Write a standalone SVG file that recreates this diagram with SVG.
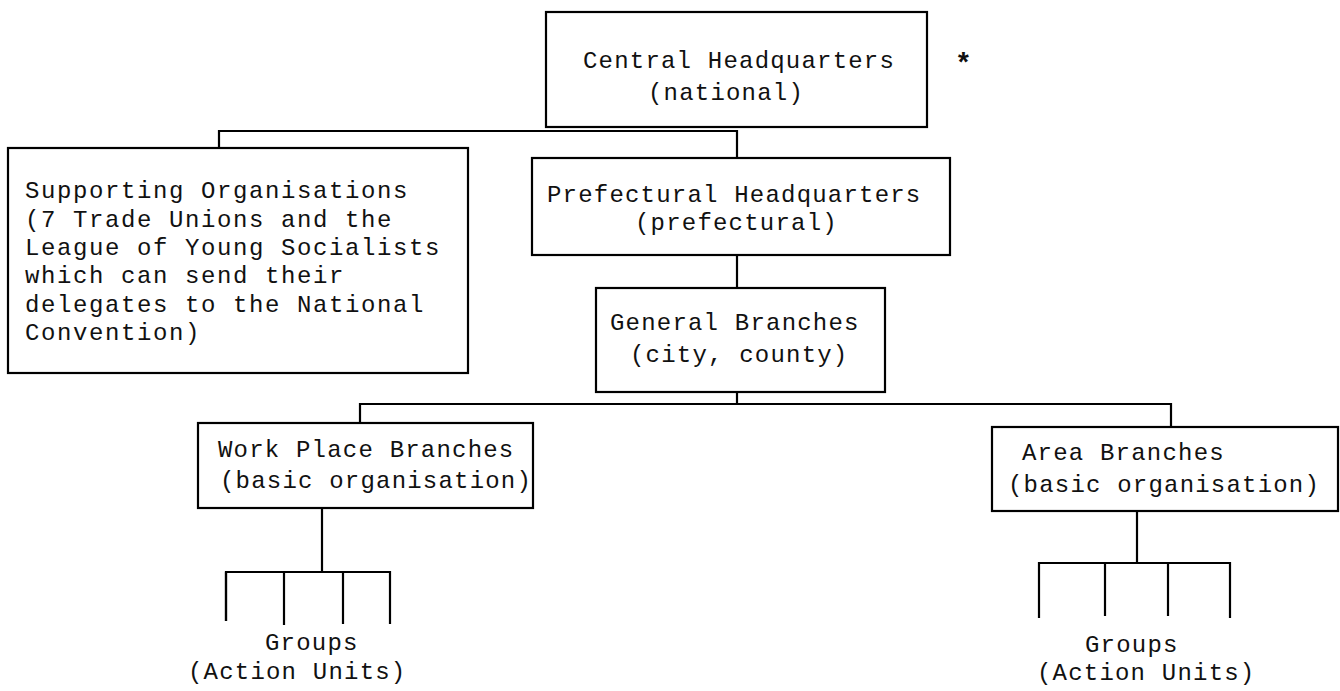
<svg xmlns="http://www.w3.org/2000/svg" width="1340" height="691" viewBox="0 0 1340 691">
<style>
.box{fill:#fff;stroke:#000;stroke-width:2.2}
.ln{fill:none;stroke:#000;stroke-width:2.2}
.t{font-family:"Liberation Mono","DejaVu Sans Mono",monospace;font-size:24px;letter-spacing:1.2px;fill:#111}
.w{letter-spacing:1.6px}
</style>
<rect width="1340" height="691" fill="#fff"/>
<g id="connectors">
<polyline class="ln" points="219,148 219,131 737,131 737,158"/>
<line class="ln" x1="737" y1="255" x2="737" y2="288"/>
<polyline class="ln" points="360,423 360,404 1171,404 1171,427"/>
<line class="ln" x1="737" y1="392" x2="737" y2="404"/>
<line class="ln" x1="322" y1="508" x2="322" y2="572"/>
<polyline class="ln" points="226,621 226,572 390,572 390,624"/>
<line class="ln" x1="226" y1="572" x2="226" y2="621" stroke-width="3.2"/>
<line class="ln" x1="284" y1="572" x2="284" y2="625"/>
<line class="ln" x1="343" y1="572" x2="343" y2="624"/>
<line class="ln" x1="1137" y1="511" x2="1137" y2="563"/>
<polyline class="ln" points="1039,618 1039,563 1230,563 1230,618"/>
<line class="ln" x1="1105" y1="563" x2="1105" y2="616"/>
<line class="ln" x1="1168" y1="563" x2="1168" y2="616"/>
</g>
<g id="central">
<rect class="box" x="546" y="12" width="381" height="115"/>
<text class="t" x="583" y="68">Central Headquarters</text>
<text class="t" x="648" y="100">(national)</text>
</g>
<text x="955" y="72" font-family="Liberation Mono, monospace" font-size="28" font-weight="bold" fill="#111">*</text>
<g id="supporting">
<rect class="box" x="8" y="148" width="460" height="225"/>
<text class="t w" x="25" y="198">Supporting Organisations</text>
<text class="t w" x="25" y="227">(7 Trade Unions and the</text>
<text class="t w" x="25" y="255">League of Young Socialists</text>
<text class="t w" x="25" y="283">which can send their</text>
<text class="t w" x="25" y="312">delegates to the National</text>
<text class="t w" x="25" y="340">Convention)</text>
</g>
<g id="prefectural">
<rect class="box" x="532" y="158" width="418" height="97"/>
<text class="t" x="547" y="202">Prefectural Headquarters</text>
<text class="t" x="635" y="230">(prefectural)</text>
</g>
<g id="general">
<rect class="box" x="596" y="288" width="289" height="104"/>
<text class="t" x="610" y="330">General Branches</text>
<text class="t" x="630" y="362">(city, county)</text>
</g>
<g id="workplace">
<rect class="box" x="198" y="423" width="335" height="85"/>
<text class="t" x="218" y="457">Work Place Branches</text>
<text class="t" x="220" y="488">(basic organisation)</text>
</g>
<g id="area">
<rect class="box" x="992" y="427" width="346" height="84"/>
<text class="t" x="1022" y="460">Area Branches</text>
<text class="t" x="1008" y="492">(basic organisation)</text>
</g>
<g id="groups-left">
<text class="t" x="265" y="650">Groups</text>
<text class="t" x="188" y="679">(Action Units)</text>
</g>
<g id="groups-right">
<text class="t" x="1085" y="652">Groups</text>
<text class="t" x="1037" y="680">(Action Units)</text>
</g>
</svg>
